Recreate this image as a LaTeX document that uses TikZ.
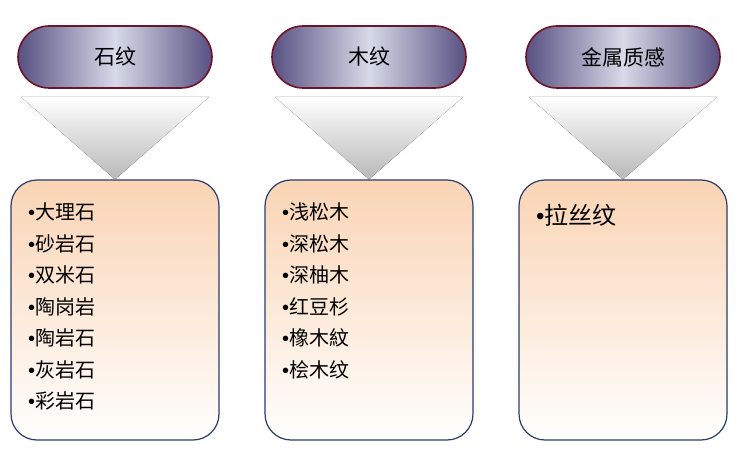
\documentclass[tikz,border=0pt]{standalone}
\usepackage{fontspec}
\setmainfont{Noto Sans CJK SC}
\newfontfamily\bulletfont{Liberation Sans}
\usetikzlibrary{positioning}
\definecolor{pilldark}{RGB}{88,80,130}
\definecolor{pilllight}{RGB}{215,218,232}
\definecolor{pillrim}{RGB}{110,20,40}
\definecolor{boxrim}{RGB}{40,60,110}
\definecolor{peach}{RGB}{250,212,180}
\newcommand{\bul}{{\bulletfont •}}
\tikzset{
  head/.style={draw=pillrim, line width=1.6pt, rounded corners=31pt, minimum width=194pt,
    minimum height=62pt, left color=pilldark, right color=pilldark, middle color=pilllight,
    font=\fontsize{21}{21}\selectfont},
  listbox/.style={draw=boxrim, line width=1.2pt, rounded corners=26pt, minimum width=208pt,
    minimum height=260pt, top color=peach, bottom color=white},
  item/.style={anchor=west, font=\fontsize{20}{20}\selectfont, inner sep=0pt}
}
\begin{document}
\begin{tikzpicture}[x=1pt,y=-1pt]
  \useasboundingbox (0,0) rectangle (750,454);
  % columns
  \foreach \i/\cx/\name in {1/115/石纹, 2/369/木纹, 3/623/金属质感} {
    \node[listbox] (box\i) at (\cx,310) {};
    \coordinate (tl\i) at (\cx-94,97);
    \coordinate (tr\i) at (\cx+94,97);
    \fill[top color=white, bottom color=black!28] (tl\i) -- (tr\i) -- (box\i.north) -- cycle;
    \node[head] (head\i) at (\cx,57) {\name};
  }
  \foreach \t [count=\k] in {大理石,砂岩石,双米石,陶岗岩,陶岩石,灰岩石,彩岩石}
    \node[item] (s\k) at (28,212+31.5*\k-31.5) {\bul{}\t};
  \foreach \t [count=\k] in {浅松木,深松木,深柚木,红豆杉,橡木紋,桧木纹}
    \node[item] (w\k) at (282,212+31.5*\k-31.5) {\bul{}\t};
  \node[item, font=\fontsize{24}{24}\selectfont] (m1) at (536,215) {\bul{}拉丝纹};
\end{tikzpicture}
\end{document}
